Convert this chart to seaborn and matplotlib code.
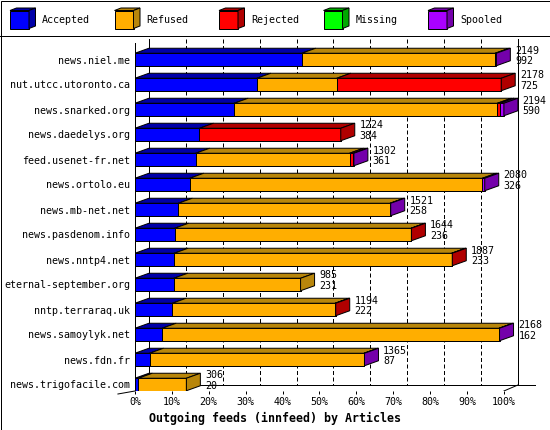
import numpy as np
import pandas as pd
import matplotlib
matplotlib.use('Agg')
import matplotlib.pyplot as plt
import seaborn as sns

# data
feeds = ['news.niel.me', 'nut.utcc.utoronto.ca', 'news.snarked.org',
         'news.daedelys.org', 'feed.usenet-fr.net', 'news.ortolo.eu',
         'news.mb-net.net', 'news.pasdenom.info', 'news.nntp4.net',
         'eternal-september.org', 'nntp.terraraq.uk', 'news.samoylyk.net',
         'news.fdn.fr', 'news.trigofacile.com']
offered = [2149, 2178, 2194, 1224, 1302, 2080, 1521, 1644, 1887, 985, 1194, 2168, 1365, 306]
accepted = [992, 725, 590, 384, 361, 326, 258, 236, 233, 231, 222, 162, 87, 20]
refused = [1150, 475, 1565, 0, 915, 1740, 1259, 1406, 1650, 754, 968, 2003, 1275, 286]
rejected = [0, 978, 16, 840, 23, 0, 0, 2, 4, 0, 4, 0, 0, 0]
missing = [0, 0, 0, 0, 0, 0, 0, 0, 0, 0, 0, 0, 0, 0]
spooled = [7, 0, 23, 0, 3, 14, 4, 0, 0, 0, 0, 3, 3, 0]

categories = ['Accepted', 'Refused', 'Rejected', 'Missing', 'Spooled']
pct_ticks = [0, 10, 20, 30, 40, 50, 60, 70, 80, 90, 100]

front_colors = ['#0000ff', '#ffae00', '#ff0000', '#00ff00', '#aa00ff']
dark_colors = ['#0000a8', '#b8860b', '#b00000', '#00a800', '#7400aa']

plt.rcParams['font.family'] = ['DejaVu Sans Mono']
FS = 7.2
LW = 0.72

# segments as percent of the biggest offered total
segs = np.array([accepted, refused, rejected, missing, spooled], dtype=float)
scale = 100.0 / max(offered)
cum = np.cumsum(segs, axis=0) * scale

# 3d look
DX = 14 / 3.69
DY = 0.2
BAR_H = 0.5
FLOOR_Y = 13.02
FRONT_Y = 13.26

fig = plt.figure(figsize=(5.5, 4.3), dpi=100)

# background: frame + legend strip
bg = fig.add_axes([0, 0, 1, 1])
bg.set_xlim(0, 550)
bg.set_ylim(430, 0)
bg.axis('off')
bg.add_patch(plt.Rectangle((0.5, 0.5), 549, 429, fill=False, ec='black', lw=LW))
bg.plot([0, 550], [35.5, 35.5], color='black', lw=LW)
for j, name in enumerate(categories):
    x0 = 10 + 104.5 * j
    bg.fill([x0, x0 + 19, x0 + 19, x0], [10.5, 10.5, 28.5, 28.5],
            fc=front_colors[j], ec='black', lw=LW)
    bg.fill([x0, x0 + 19, x0 + 25.5, x0 + 6.5], [10.5, 10.5, 8, 8],
            fc=dark_colors[j], ec='black', lw=LW)
    bg.fill([x0 + 19, x0 + 25.5, x0 + 25.5, x0 + 19], [10.5, 8, 26, 28.5],
            fc=dark_colors[j], ec='black', lw=LW)
    bg.text(x0 + 32, 20, name, fontsize=FS, va='center', ha='left')

ax = fig.add_axes([134.9 / 550, (430 - 391) / 430, (548 - 134.9) / 550, (391 - 36) / 430])

# back wall grid
for p in pct_ticks:
    ls = '-' if p in (0, 100) else (0, (4, 2.5))
    ax.plot([p + DX, p + DX], [-0.84, FLOOR_Y], color='black', lw=LW, ls=ls, zorder=0.5)
ax.plot([DX, 108.4], [FLOOR_Y, FLOOR_Y], color='black', lw=LW, zorder=0.5)
ax.plot([100, 100 + DX], [FRONT_Y, FLOOR_Y], color='black', lw=LW, zorder=0.5)
ax.plot([-4.6, 0], [13.38, FRONT_Y], color='black', lw=LW, clip_on=False)
ax.plot([0, 0], [-0.66, FRONT_Y], color='black', lw=LW, zorder=5)

# front faces: cumulative bars, biggest first
for k in range(len(categories) - 1, -1, -1):
    df = pd.DataFrame({'feed': feeds, 'val': cum[k]})
    sns.barplot(data=df, x='val', y='feed', orient='h', color=front_colors[k],
                saturation=1, width=BAR_H, edgecolor='black', linewidth=LW,
                errorbar=None, ax=ax)

# top and side faces
for i in range(len(feeds)):
    yt = i - BAR_H / 2
    yb = i + BAR_H / 2
    left = 0.0
    last = 0
    for k in range(len(categories)):
        right = cum[k][i]
        if right > left:
            ax.fill([left, right, right + DX, left + DX], [yt, yt, yt - DY, yt - DY],
                    fc=dark_colors[k], ec='black', lw=LW, zorder=3)
            last = k
        left = right
    R = cum[-1][i]
    ax.fill([R, R + DX, R + DX, R], [yt, yt - DY, yb - DY, yb],
            fc=dark_colors[last], ec='black', lw=LW, zorder=3)
    ax.text(R + DX + 1.3, i - 0.36, str(offered[i]), fontsize=FS, va='center', ha='left')
    ax.text(R + DX + 1.3, i + 0.07, str(accepted[i]), fontsize=FS, va='center', ha='left')

ax.set_xlim(0, (548 - 134.9) / 3.69)
ax.set_ylim(FRONT_Y, -0.94)
ax.set_xticks(pct_ticks)
ax.set_xticklabels([f'{p}%' for p in pct_ticks], fontsize=FS)
ax.set_yticks(range(len(feeds)))
ax.set_yticklabels(feeds, fontsize=FS)
ax.tick_params(axis='y', length=0, pad=3.5)
ax.tick_params(axis='x', length=2.2, width=LW, pad=2, direction='out')
for s in ax.spines.values():
    s.set_visible(False)
ax.set_ylabel('')
ax.set_xlabel('Outgoing feeds (innfeed) by Articles', fontsize=8.4, fontweight='bold')
ax.xaxis.set_label_coords((274.7 - 134.9) / (548 - 134.9), (391 - 418) / 355)
ax.xaxis.label.set_va('center')
ax.patch.set_alpha(0)

fig.savefig('out.png', dpi=100)
